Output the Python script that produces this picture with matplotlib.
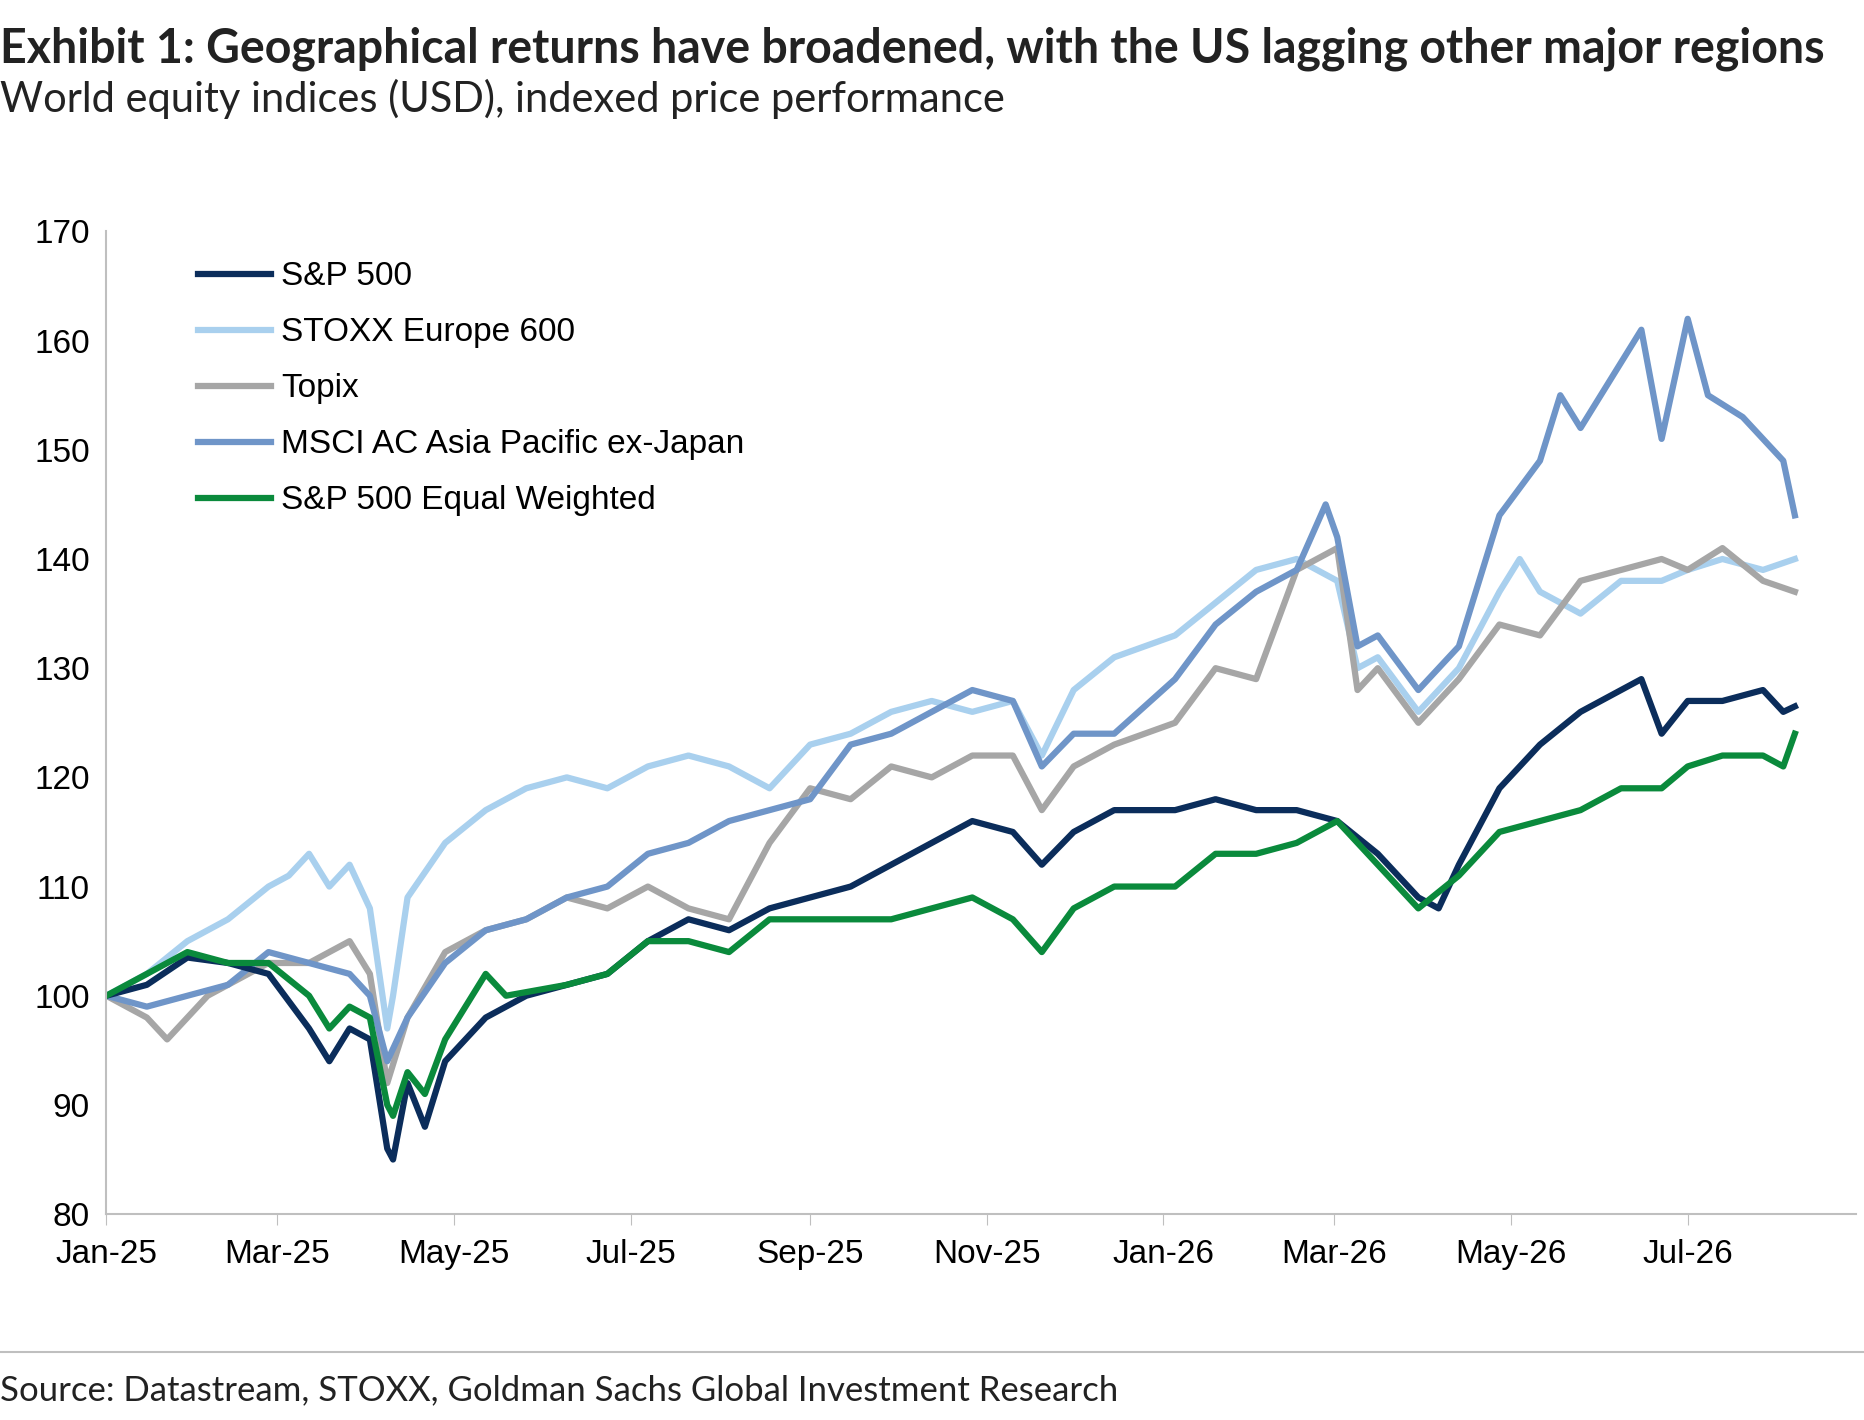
import matplotlib
matplotlib.use("Agg")
import matplotlib.pyplot as plt
import matplotlib.dates as mdates
import pandas as pd

spx_dates = ["2025-01-01", "2025-01-15", "2025-01-29", "2025-02-12", "2025-02-26", "2025-03-12", "2025-03-19", "2025-03-26",
             "2025-04-02", "2025-04-08", "2025-04-10", "2025-04-15", "2025-04-21", "2025-04-28", "2025-05-12", "2025-05-26",
             "2025-06-09", "2025-06-23", "2025-07-07", "2025-07-21", "2025-08-04", "2025-08-18", "2025-09-01", "2025-09-15",
             "2025-09-29", "2025-10-13", "2025-10-27", "2025-11-10", "2025-11-20", "2025-12-01", "2025-12-15", "2026-01-05",
             "2026-01-19", "2026-02-02", "2026-02-16", "2026-03-02", "2026-03-16", "2026-03-30", "2026-04-06", "2026-04-13",
             "2026-04-27", "2026-05-11", "2026-05-25", "2026-06-08", "2026-06-15", "2026-06-22", "2026-07-01", "2026-07-13",
             "2026-07-27", "2026-08-03", "2026-08-07"]
spx = [100, 101, 103.5, 103, 102, 97, 94, 97, 96, 86, 85, 92, 88, 94, 98, 100, 101, 102, 105, 107, 106, 108, 109, 110,
       112, 114, 116, 115, 112, 115, 117, 117, 118, 117, 117, 116, 113, 109, 108, 112, 119, 123, 126, 128, 129, 124,
       127, 127, 128, 126, 126.5]

stoxx_dates = ["2025-01-01", "2025-01-15", "2025-01-29", "2025-02-12", "2025-02-26", "2025-03-05", "2025-03-12", "2025-03-19",
               "2025-03-26", "2025-04-02", "2025-04-08", "2025-04-10", "2025-04-15", "2025-04-28", "2025-05-12", "2025-05-26",
               "2025-06-09", "2025-06-23", "2025-07-07", "2025-07-21", "2025-08-04", "2025-08-18", "2025-09-01", "2025-09-15",
               "2025-09-29", "2025-10-13", "2025-10-27", "2025-11-10", "2025-11-20", "2025-12-01", "2025-12-15", "2026-01-05",
               "2026-01-19", "2026-02-02", "2026-02-16", "2026-03-02", "2026-03-09", "2026-03-16", "2026-03-30", "2026-04-13",
               "2026-04-27", "2026-05-04", "2026-05-11", "2026-05-25", "2026-06-08", "2026-06-22", "2026-07-01", "2026-07-13",
               "2026-07-27", "2026-08-07"]
stoxx = [100, 102, 105, 107, 110, 111, 113, 110, 112, 108, 97, 100, 109, 114, 117, 119, 120, 119, 121, 122, 121, 119,
         123, 124, 126, 127, 126, 127, 122, 128, 131, 133, 136, 139, 140, 138, 130, 131, 126, 130, 137, 140, 137, 135,
         138, 138, 139, 140, 139, 140]

topix_dates = ["2025-01-01", "2025-01-15", "2025-01-22", "2025-02-05", "2025-02-26", "2025-03-12", "2025-03-26", "2025-04-02",
               "2025-04-08", "2025-04-15", "2025-04-28", "2025-05-12", "2025-05-26", "2025-06-09", "2025-06-23", "2025-07-07",
               "2025-07-21", "2025-08-04", "2025-08-18", "2025-09-01", "2025-09-15", "2025-09-29", "2025-10-13", "2025-10-27",
               "2025-11-10", "2025-11-20", "2025-12-01", "2025-12-15", "2026-01-05", "2026-01-19", "2026-02-02", "2026-02-16",
               "2026-03-02", "2026-03-09", "2026-03-16", "2026-03-30", "2026-04-13", "2026-04-27", "2026-05-11", "2026-05-25",
               "2026-06-08", "2026-06-22", "2026-07-01", "2026-07-13", "2026-07-27", "2026-08-07"]
topix = [100, 98, 96, 100, 103, 103, 105, 102, 92, 98, 104, 106, 107, 109, 108, 110, 108, 107, 114, 119, 118, 121,
         120, 122, 122, 117, 121, 123, 125, 130, 129, 139, 141, 128, 130, 125, 129, 134, 133, 138, 139, 140, 139, 141,
         138, 137]

apxj_dates = ["2025-01-01", "2025-01-15", "2025-01-29", "2025-02-12", "2025-02-26", "2025-03-12", "2025-03-26", "2025-04-02",
              "2025-04-08", "2025-04-15", "2025-04-28", "2025-05-12", "2025-05-26", "2025-06-09", "2025-06-23", "2025-07-07",
              "2025-07-21", "2025-08-04", "2025-08-18", "2025-09-01", "2025-09-15", "2025-09-29", "2025-10-13", "2025-10-27",
              "2025-11-10", "2025-11-20", "2025-12-01", "2025-12-15", "2026-01-05", "2026-01-19", "2026-02-02", "2026-02-16",
              "2026-02-26", "2026-03-02", "2026-03-09", "2026-03-16", "2026-03-30", "2026-04-13", "2026-04-27", "2026-05-11",
              "2026-05-18", "2026-05-25", "2026-06-08", "2026-06-15", "2026-06-22", "2026-07-01", "2026-07-08", "2026-07-20",
              "2026-07-27", "2026-08-03", "2026-08-07"]
apxj = [100, 99, 100, 101, 104, 103, 102, 100, 94, 98, 103, 106, 107, 109, 110, 113, 114, 116, 117, 118, 123, 124,
        126, 128, 127, 121, 124, 124, 129, 134, 137, 139, 145, 142, 132, 133, 128, 132, 144, 149, 155, 152, 158, 161,
        151, 162, 155, 153, 151, 149, 144]

ew_dates = ["2025-01-01", "2025-01-15", "2025-01-29", "2025-02-12", "2025-02-26", "2025-03-12", "2025-03-19", "2025-03-26",
            "2025-04-02", "2025-04-08", "2025-04-10", "2025-04-15", "2025-04-21", "2025-04-28", "2025-05-12", "2025-05-19",
            "2025-06-09", "2025-06-23", "2025-07-07", "2025-07-21", "2025-08-04", "2025-08-18", "2025-09-01", "2025-09-15",
            "2025-09-29", "2025-10-13", "2025-10-27", "2025-11-10", "2025-11-20", "2025-12-01", "2025-12-15", "2026-01-05",
            "2026-01-19", "2026-02-02", "2026-02-16", "2026-03-02", "2026-03-16", "2026-03-30", "2026-04-13", "2026-04-27",
            "2026-05-11", "2026-05-25", "2026-06-08", "2026-06-22", "2026-07-01", "2026-07-13", "2026-07-27", "2026-08-03",
            "2026-08-07"]
ew = [100, 102, 104, 103, 103, 100, 97, 99, 98, 90, 89, 93, 91, 96, 102, 100, 101, 102, 105, 105, 104, 107, 107, 107,
      107, 108, 109, 107, 104, 108, 110, 110, 113, 113, 114, 116, 112, 108, 111, 115, 116, 117, 119, 119, 121, 122,
      122, 121, 124]

series = [
    ("STOXX Europe 600", stoxx_dates, stoxx, "#a9d0ee"),
    ("Topix", topix_dates, topix, "#a6a6a6"),
    ("MSCI AC Asia Pacific ex-Japan", apxj_dates, apxj, "#6f95c8"),
    ("S&P 500", spx_dates, spx, "#0b2d5b"),
    ("S&P 500 Equal Weighted", ew_dates, ew, "#0a8a3c"),
]
legend_order = ["S&P 500", "STOXX Europe 600", "Topix", "MSCI AC Asia Pacific ex-Japan", "S&P 500 Equal Weighted"]

fig = plt.figure(figsize=(18.65, 14.2), dpi=100)
ax = fig.add_axes([0.057, 0.145, 0.938, 0.692])

handles = {}
for name, dates, values, color in series:
    (line,) = ax.plot(pd.to_datetime(dates), values, color=color, linewidth=4.5, label=name)
    handles[name] = line

ax.set_ylim(80, 170)
ax.set_yticks(range(80, 171, 10))
ax.set_xlim(pd.Timestamp("2025-01-01"), pd.Timestamp("2026-08-28"))
ax.xaxis.set_major_locator(mdates.MonthLocator(bymonth=[1, 3, 5, 7, 9, 11]))
ax.xaxis.set_major_formatter(mdates.DateFormatter("%b-%y"))
ax.tick_params(labelsize=24, length=8, color="#bfbfbf", direction="out", pad=10)
ax.tick_params(axis="y", length=0, pad=12)
for side in ["top", "right"]:
    ax.spines[side].set_visible(False)
for side in ["left", "bottom"]:
    ax.spines[side].set_color("#bfbfbf")
    ax.spines[side].set_linewidth(1.5)
for lab in ax.get_xticklabels() + ax.get_yticklabels():
    lab.set_fontfamily("Liberation Sans")

ax.legend([handles[n] for n in legend_order], legend_order, loc="upper left",
          bbox_to_anchor=(0.035, 1.0), frameon=False, handlelength=2.2,
          handletextpad=0.3, labelspacing=0.75, prop={"family": "Liberation Sans", "size": 24})

fig.text(0.0, 0.966, "Exhibit 1: Geographical returns have broadened, with the US lagging other major regions",
         fontsize=33.5, fontweight="bold", family="Lato", color="#222222", va="center")
fig.text(0.0, 0.93, "World equity indices (USD), indexed price performance",
         fontsize=30, family="Lato", color="#222222", va="center")
fig.add_artist(plt.Line2D([0, 1], [0.048, 0.048], color="#bfbfbf", linewidth=1.5))
fig.text(0.0, 0.021, "Source: Datastream, STOXX, Goldman Sachs Global Investment Research",
         fontsize=25, family="Lato", color="#222222", va="center")

fig.savefig("out.png", dpi=100)
